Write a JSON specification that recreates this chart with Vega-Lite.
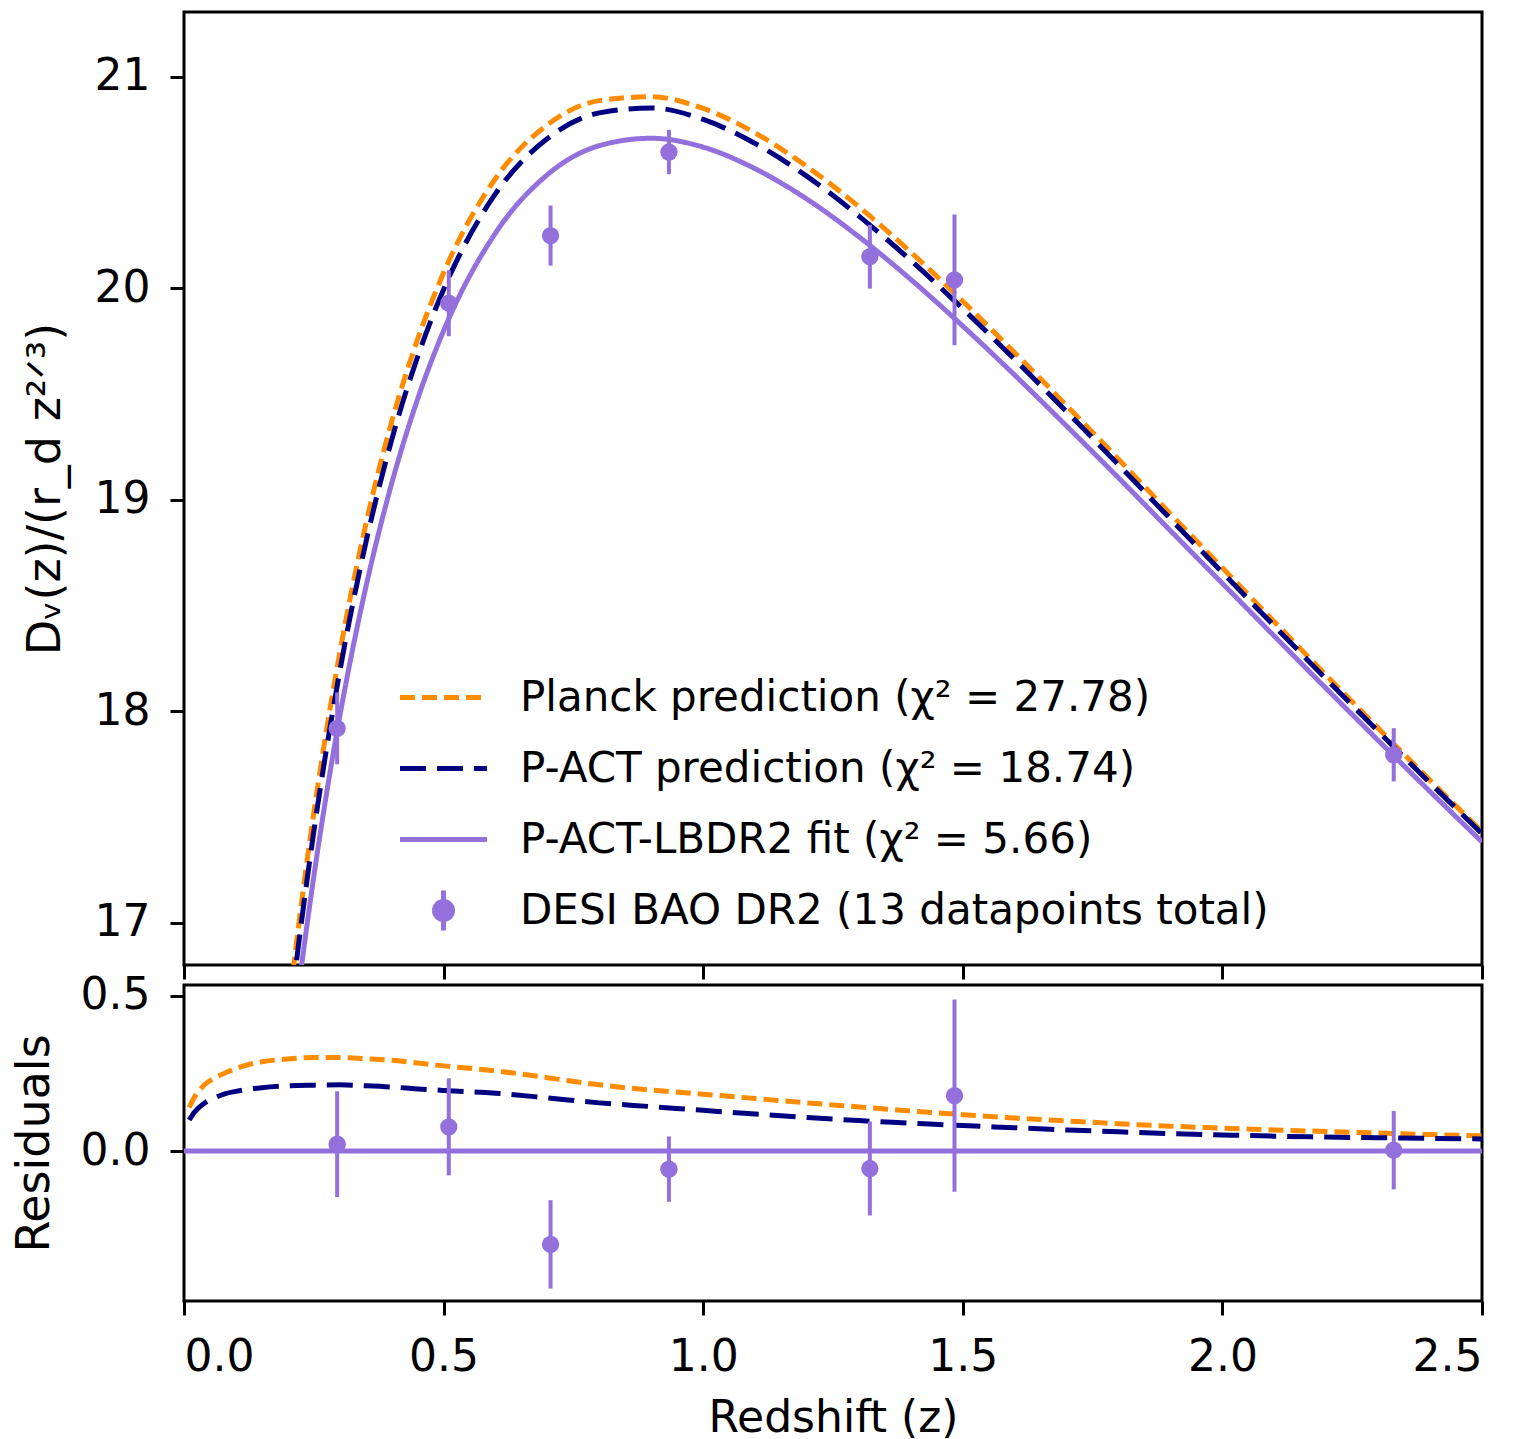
{
  "$schema": "https://vega.github.io/schema/vega-lite/v6.json",
  "background": "white",
  "padding": {"left": 9, "top": 10, "right": 0, "bottom": 0},
  "spacing": -10,
  "config": {
    "view": {"stroke": "black", "strokeWidth": 3},
    "font": "DejaVu Sans",
    "axis": {"domain": false, "grid": false, "tickColor": "black", "tickWidth": 3, "tickSize": 14, "labelFont": "DejaVu Sans", "labelFontSize": 44, "labelColor": "black", "labelPadding": 20, "titleFont": "DejaVu Sans", "titleFontSize": 46, "titleFontWeight": "normal", "titleColor": "black", "titlePadding": 25}
  },
  "datasets": {
    "curves": [
      {"series": "Planck prediction (χ² = 27.78)", "z": 0.2, "value": 16.561},
      {"series": "Planck prediction (χ² = 27.78)", "z": 0.22, "value": 16.972},
      {"series": "Planck prediction (χ² = 27.78)", "z": 0.25, "value": 17.52},
      {"series": "Planck prediction (χ² = 27.78)", "z": 0.275, "value": 17.919},
      {"series": "Planck prediction (χ² = 27.78)", "z": 0.3, "value": 18.277},
      {"series": "Planck prediction (χ² = 27.78)", "z": 0.35, "value": 18.882},
      {"series": "Planck prediction (χ² = 27.78)", "z": 0.4, "value": 19.37},
      {"series": "Planck prediction (χ² = 27.78)", "z": 0.45, "value": 19.76},
      {"series": "Planck prediction (χ² = 27.78)", "z": 0.5, "value": 20.074},
      {"series": "Planck prediction (χ² = 27.78)", "z": 0.6, "value": 20.52},
      {"series": "Planck prediction (χ² = 27.78)", "z": 0.7, "value": 20.774},
      {"series": "Planck prediction (χ² = 27.78)", "z": 0.8, "value": 20.888},
      {"series": "Planck prediction (χ² = 27.78)", "z": 0.9, "value": 20.906},
      {"series": "Planck prediction (χ² = 27.78)", "z": 1.0, "value": 20.851},
      {"series": "Planck prediction (χ² = 27.78)", "z": 1.1, "value": 20.735},
      {"series": "Planck prediction (χ² = 27.78)", "z": 1.2, "value": 20.576},
      {"series": "Planck prediction (χ² = 27.78)", "z": 1.3, "value": 20.386},
      {"series": "Planck prediction (χ² = 27.78)", "z": 1.4, "value": 20.171},
      {"series": "Planck prediction (χ² = 27.78)", "z": 1.5, "value": 19.939},
      {"series": "Planck prediction (χ² = 27.78)", "z": 1.6, "value": 19.696},
      {"series": "Planck prediction (χ² = 27.78)", "z": 1.7, "value": 19.446},
      {"series": "Planck prediction (χ² = 27.78)", "z": 1.8, "value": 19.192},
      {"series": "Planck prediction (χ² = 27.78)", "z": 1.9, "value": 18.934},
      {"series": "Planck prediction (χ² = 27.78)", "z": 2.0, "value": 18.679},
      {"series": "Planck prediction (χ² = 27.78)", "z": 2.1, "value": 18.424},
      {"series": "Planck prediction (χ² = 27.78)", "z": 2.2, "value": 18.171},
      {"series": "Planck prediction (χ² = 27.78)", "z": 2.3, "value": 17.921},
      {"series": "Planck prediction (χ² = 27.78)", "z": 2.4, "value": 17.674},
      {"series": "Planck prediction (χ² = 27.78)", "z": 2.5, "value": 17.432},
      {"series": "P-ACT prediction (χ² = 18.74)", "z": 0.2, "value": 16.475},
      {"series": "P-ACT prediction (χ² = 18.74)", "z": 0.22, "value": 16.885},
      {"series": "P-ACT prediction (χ² = 18.74)", "z": 0.25, "value": 17.431},
      {"series": "P-ACT prediction (χ² = 18.74)", "z": 0.275, "value": 17.831},
      {"series": "P-ACT prediction (χ² = 18.74)", "z": 0.3, "value": 18.189},
      {"series": "P-ACT prediction (χ² = 18.74)", "z": 0.35, "value": 18.795},
      {"series": "P-ACT prediction (χ² = 18.74)", "z": 0.4, "value": 19.284},
      {"series": "P-ACT prediction (χ² = 18.74)", "z": 0.45, "value": 19.677},
      {"series": "P-ACT prediction (χ² = 18.74)", "z": 0.5, "value": 19.995},
      {"series": "P-ACT prediction (χ² = 18.74)", "z": 0.6, "value": 20.448},
      {"series": "P-ACT prediction (χ² = 18.74)", "z": 0.7, "value": 20.709},
      {"series": "P-ACT prediction (χ² = 18.74)", "z": 0.8, "value": 20.83},
      {"series": "P-ACT prediction (χ² = 18.74)", "z": 0.9, "value": 20.853},
      {"series": "P-ACT prediction (χ² = 18.74)", "z": 1.0, "value": 20.799},
      {"series": "P-ACT prediction (χ² = 18.74)", "z": 1.1, "value": 20.685},
      {"series": "P-ACT prediction (χ² = 18.74)", "z": 1.2, "value": 20.53},
      {"series": "P-ACT prediction (χ² = 18.74)", "z": 1.3, "value": 20.342},
      {"series": "P-ACT prediction (χ² = 18.74)", "z": 1.4, "value": 20.132},
      {"series": "P-ACT prediction (χ² = 18.74)", "z": 1.5, "value": 19.904},
      {"series": "P-ACT prediction (χ² = 18.74)", "z": 1.6, "value": 19.664},
      {"series": "P-ACT prediction (χ² = 18.74)", "z": 1.7, "value": 19.417},
      {"series": "P-ACT prediction (χ² = 18.74)", "z": 1.8, "value": 19.166},
      {"series": "P-ACT prediction (χ² = 18.74)", "z": 1.9, "value": 18.91},
      {"series": "P-ACT prediction (χ² = 18.74)", "z": 2.0, "value": 18.657},
      {"series": "P-ACT prediction (χ² = 18.74)", "z": 2.1, "value": 18.404},
      {"series": "P-ACT prediction (χ² = 18.74)", "z": 2.2, "value": 18.153},
      {"series": "P-ACT prediction (χ² = 18.74)", "z": 2.3, "value": 17.906},
      {"series": "P-ACT prediction (χ² = 18.74)", "z": 2.4, "value": 17.662},
      {"series": "P-ACT prediction (χ² = 18.74)", "z": 2.5, "value": 17.422},
      {"series": "P-ACT-LBDR2 fit (χ² = 5.66)", "z": 0.2, "value": 16.265},
      {"series": "P-ACT-LBDR2 fit (χ² = 5.66)", "z": 0.22, "value": 16.674},
      {"series": "P-ACT-LBDR2 fit (χ² = 5.66)", "z": 0.25, "value": 17.219},
      {"series": "P-ACT-LBDR2 fit (χ² = 5.66)", "z": 0.275, "value": 17.618},
      {"series": "P-ACT-LBDR2 fit (χ² = 5.66)", "z": 0.3, "value": 17.976},
      {"series": "P-ACT-LBDR2 fit (χ² = 5.66)", "z": 0.35, "value": 18.585},
      {"series": "P-ACT-LBDR2 fit (χ² = 5.66)", "z": 0.4, "value": 19.078},
      {"series": "P-ACT-LBDR2 fit (χ² = 5.66)", "z": 0.45, "value": 19.477},
      {"series": "P-ACT-LBDR2 fit (χ² = 5.66)", "z": 0.5, "value": 19.8},
      {"series": "P-ACT-LBDR2 fit (χ² = 5.66)", "z": 0.6, "value": 20.262},
      {"series": "P-ACT-LBDR2 fit (χ² = 5.66)", "z": 0.7, "value": 20.538},
      {"series": "P-ACT-LBDR2 fit (χ² = 5.66)", "z": 0.8, "value": 20.675},
      {"series": "P-ACT-LBDR2 fit (χ² = 5.66)", "z": 0.9, "value": 20.71},
      {"series": "P-ACT-LBDR2 fit (χ² = 5.66)", "z": 1.0, "value": 20.668},
      {"series": "P-ACT-LBDR2 fit (χ² = 5.66)", "z": 1.1, "value": 20.566},
      {"series": "P-ACT-LBDR2 fit (χ² = 5.66)", "z": 1.2, "value": 20.422},
      {"series": "P-ACT-LBDR2 fit (χ² = 5.66)", "z": 1.3, "value": 20.244},
      {"series": "P-ACT-LBDR2 fit (χ² = 5.66)", "z": 1.4, "value": 20.042},
      {"series": "P-ACT-LBDR2 fit (χ² = 5.66)", "z": 1.5, "value": 19.822},
      {"series": "P-ACT-LBDR2 fit (χ² = 5.66)", "z": 1.6, "value": 19.59},
      {"series": "P-ACT-LBDR2 fit (χ² = 5.66)", "z": 1.7, "value": 19.349},
      {"series": "P-ACT-LBDR2 fit (χ² = 5.66)", "z": 1.8, "value": 19.104},
      {"series": "P-ACT-LBDR2 fit (χ² = 5.66)", "z": 1.9, "value": 18.854},
      {"series": "P-ACT-LBDR2 fit (χ² = 5.66)", "z": 2.0, "value": 18.605},
      {"series": "P-ACT-LBDR2 fit (χ² = 5.66)", "z": 2.1, "value": 18.356},
      {"series": "P-ACT-LBDR2 fit (χ² = 5.66)", "z": 2.2, "value": 18.108},
      {"series": "P-ACT-LBDR2 fit (χ² = 5.66)", "z": 2.3, "value": 17.863},
      {"series": "P-ACT-LBDR2 fit (χ² = 5.66)", "z": 2.4, "value": 17.621},
      {"series": "P-ACT-LBDR2 fit (χ² = 5.66)", "z": 2.5, "value": 17.383}
    ],
    "rescurves": [
      {"series": "Planck", "z": 0.01, "res": 0.14},
      {"series": "Planck", "z": 0.02, "res": 0.173},
      {"series": "Planck", "z": 0.04, "res": 0.214},
      {"series": "Planck", "z": 0.06, "res": 0.236},
      {"series": "Planck", "z": 0.08, "res": 0.252},
      {"series": "Planck", "z": 0.1, "res": 0.265},
      {"series": "Planck", "z": 0.12, "res": 0.276},
      {"series": "Planck", "z": 0.15, "res": 0.287},
      {"series": "Planck", "z": 0.2, "res": 0.296},
      {"series": "Planck", "z": 0.25, "res": 0.301},
      {"series": "Planck", "z": 0.3, "res": 0.301},
      {"series": "Planck", "z": 0.35, "res": 0.297},
      {"series": "Planck", "z": 0.4, "res": 0.292},
      {"series": "Planck", "z": 0.45, "res": 0.283},
      {"series": "Planck", "z": 0.5, "res": 0.274},
      {"series": "Planck", "z": 0.6, "res": 0.258},
      {"series": "Planck", "z": 0.7, "res": 0.236},
      {"series": "Planck", "z": 0.8, "res": 0.213},
      {"series": "Planck", "z": 0.9, "res": 0.196},
      {"series": "Planck", "z": 1.0, "res": 0.183},
      {"series": "Planck", "z": 1.1, "res": 0.169},
      {"series": "Planck", "z": 1.2, "res": 0.155},
      {"series": "Planck", "z": 1.3, "res": 0.142},
      {"series": "Planck", "z": 1.4, "res": 0.129},
      {"series": "Planck", "z": 1.5, "res": 0.117},
      {"series": "Planck", "z": 1.6, "res": 0.106},
      {"series": "Planck", "z": 1.7, "res": 0.097},
      {"series": "Planck", "z": 1.8, "res": 0.088},
      {"series": "Planck", "z": 1.9, "res": 0.08},
      {"series": "Planck", "z": 2.0, "res": 0.074},
      {"series": "Planck", "z": 2.1, "res": 0.068},
      {"series": "Planck", "z": 2.2, "res": 0.063},
      {"series": "Planck", "z": 2.3, "res": 0.058},
      {"series": "Planck", "z": 2.4, "res": 0.053},
      {"series": "Planck", "z": 2.5, "res": 0.049},
      {"series": "P-ACT", "z": 0.01, "res": 0.1},
      {"series": "P-ACT", "z": 0.02, "res": 0.125},
      {"series": "P-ACT", "z": 0.04, "res": 0.155},
      {"series": "P-ACT", "z": 0.06, "res": 0.172},
      {"series": "P-ACT", "z": 0.08, "res": 0.185},
      {"series": "P-ACT", "z": 0.1, "res": 0.192},
      {"series": "P-ACT", "z": 0.12, "res": 0.198},
      {"series": "P-ACT", "z": 0.15, "res": 0.204},
      {"series": "P-ACT", "z": 0.2, "res": 0.21},
      {"series": "P-ACT", "z": 0.25, "res": 0.212},
      {"series": "P-ACT", "z": 0.3, "res": 0.213},
      {"series": "P-ACT", "z": 0.35, "res": 0.21},
      {"series": "P-ACT", "z": 0.4, "res": 0.206},
      {"series": "P-ACT", "z": 0.45, "res": 0.2},
      {"series": "P-ACT", "z": 0.5, "res": 0.195},
      {"series": "P-ACT", "z": 0.6, "res": 0.186},
      {"series": "P-ACT", "z": 0.7, "res": 0.171},
      {"series": "P-ACT", "z": 0.8, "res": 0.155},
      {"series": "P-ACT", "z": 0.9, "res": 0.143},
      {"series": "P-ACT", "z": 1.0, "res": 0.131},
      {"series": "P-ACT", "z": 1.1, "res": 0.119},
      {"series": "P-ACT", "z": 1.2, "res": 0.108},
      {"series": "P-ACT", "z": 1.3, "res": 0.098},
      {"series": "P-ACT", "z": 1.4, "res": 0.09},
      {"series": "P-ACT", "z": 1.5, "res": 0.082},
      {"series": "P-ACT", "z": 1.6, "res": 0.075},
      {"series": "P-ACT", "z": 1.7, "res": 0.068},
      {"series": "P-ACT", "z": 1.8, "res": 0.062},
      {"series": "P-ACT", "z": 1.9, "res": 0.056},
      {"series": "P-ACT", "z": 2.0, "res": 0.052},
      {"series": "P-ACT", "z": 2.1, "res": 0.048},
      {"series": "P-ACT", "z": 2.2, "res": 0.045},
      {"series": "P-ACT", "z": 2.3, "res": 0.043},
      {"series": "P-ACT", "z": 2.4, "res": 0.041},
      {"series": "P-ACT", "z": 2.5, "res": 0.039}
    ],
    "points": [
      {"z": 0.295, "value": 17.92, "res": 0.022, "err": 0.17},
      {"z": 0.51, "value": 19.93, "res": 0.078, "err": 0.156},
      {"z": 0.706, "value": 20.25, "res": -0.3, "err": 0.142},
      {"z": 0.934, "value": 20.645, "res": -0.058, "err": 0.105},
      {"z": 1.321, "value": 20.15, "res": -0.056, "err": 0.151},
      {"z": 1.484, "value": 20.04, "res": 0.178, "err": 0.309},
      {"z": 2.33, "value": 17.795, "res": 0.003, "err": 0.126}
    ]
  },
  "resolve": {"scale": {"color": "independent", "strokeDash": "independent", "x": "independent", "y": "independent"}},
  "vconcat": [
    {
      "width": 1298,
      "height": 953,
      "layer": [
        {
          "data": {"name": "curves"},
          "mark": {"type": "line", "clip": true, "strokeWidth": 5, "interpolate": "monotone"},
          "encoding": {
            "x": {"field": "z", "type": "quantitative", "scale": {"domain": [0, 2.5], "nice": false, "zero": false}, "axis": {"values": [0, 0.5, 1, 1.5, 2, 2.5], "labels": false, "title": null, "minExtent": 15, "maxExtent": 15}},
            "y": {"field": "value", "type": "quantitative", "title": "Dᵥ(z)/(r_d z²ᐟ³)", "scale": {"domain": [16.801, 21.307], "nice": false, "zero": false}, "axis": {"values": [17, 18, 19, 20, 21], "format": "d"}},
            "color": {
              "field": "series", "type": "nominal",
              "scale": {"domain": ["Planck prediction (χ² = 27.78)", "P-ACT prediction (χ² = 18.74)", "P-ACT-LBDR2 fit (χ² = 5.66)", "DESI BAO DR2 (13 datapoints total)"], "range": ["#FF8C00", "#000080", "#9370DB", "#9370DB"]},
              "legend": {
                "orient": "none", "legendX": 237, "legendY": 663, "title": null, "padding": 0,
                "labelFont": "DejaVu Sans", "labelFontSize": 42, "labelColor": "black", "labelLimit": 0,
                "symbolSize": 1600, "symbolStrokeWidth": 5, "labelOffset": 54, "rowPadding": 10, "symbolOpacity": 1,
                "encode": {"symbols": {"update": {
                  "shape": {"signal": "indexof(datum.value,'DESI')===0 ? 'M0,-1L0,1M0.45,0A0.45,0.45,0,1,1,-0.45,0A0.45,0.45,0,1,1,0.45,0Z' : 'M0,-1M0,1M-2.175,0L2.175,0'"},
                  "strokeDash": {"signal": "indexof(datum.value,'Planck')===0 ? [15,7] : indexof(datum.value,'P-ACT prediction')===0 ? [26,11] : [1,0]"},
                  "stroke": {"signal": "indexof(datum.value,'Planck')===0 ? '#FF8C00' : indexof(datum.value,'P-ACT prediction')===0 ? '#000080' : '#9370DB'"},
                  "fill": {"signal": "indexof(datum.value,'DESI')===0 ? '#9370DB' : 'transparent'"},
                  "opacity": {"value": 1}
                }}}
              }
            },
            "strokeDash": {"field": "series", "type": "nominal", "scale": {"domain": ["Planck prediction (χ² = 27.78)", "P-ACT prediction (χ² = 18.74)", "P-ACT-LBDR2 fit (χ² = 5.66)"], "range": [[15, 7], [26, 11], [1, 0]]}, "legend": null}
          }
        },
        {
          "data": {"name": "points"},
          "mark": {"type": "errorbar", "color": "#9370DB", "thickness": 4},
          "encoding": {
            "x": {"field": "z", "type": "quantitative"},
            "y": {"field": "value", "type": "quantitative", "title": "Dᵥ(z)/(r_d z²ᐟ³)"},
            "yError": {"field": "err"}
          }
        },
        {
          "data": {"name": "points"},
          "mark": {"type": "point", "filled": true, "color": "#9370DB", "size": 300, "opacity": 1},
          "encoding": {
            "x": {"field": "z", "type": "quantitative"},
            "y": {"field": "value", "type": "quantitative", "title": "Dᵥ(z)/(r_d z²ᐟ³)"}
          }
        }
      ]
    },
    {
      "width": 1298,
      "height": 316,
      "layer": [
        {
          "data": {"values": [{"res": 0}]},
          "mark": {"type": "rule", "color": "#9370DB", "strokeWidth": 5},
          "encoding": {
            "y": {"field": "res", "type": "quantitative", "title": "Residuals", "scale": {"domain": [-0.482, 0.534], "nice": false, "zero": false}, "axis": {"values": [0, 0.5], "format": ".1f", "titlePadding": 22}}
          }
        },
        {
          "data": {"name": "rescurves"},
          "mark": {"type": "line", "clip": true, "strokeWidth": 5, "interpolate": "monotone"},
          "encoding": {
            "x": {"field": "z", "type": "quantitative", "title": "Redshift (z)", "scale": {"domain": [0, 2.5], "nice": false, "zero": false}, "axis": {"values": [0, 0.5, 1, 1.5, 2, 2.5], "format": ".1f", "labelPadding": 20, "titlePadding": 17, "titleFontSize": 44}},
            "y": {"field": "res", "type": "quantitative", "title": "Residuals"},
            "color": {"field": "series", "type": "nominal", "scale": {"domain": ["Planck", "P-ACT"], "range": ["#FF8C00", "#000080"]}, "legend": null},
            "strokeDash": {"field": "series", "type": "nominal", "scale": {"domain": ["Planck", "P-ACT"], "range": [[15, 7], [26, 11]]}, "legend": null}
          }
        },
        {
          "data": {"name": "points"},
          "mark": {"type": "errorbar", "color": "#9370DB", "thickness": 4},
          "encoding": {
            "x": {"field": "z", "type": "quantitative", "title": "Redshift (z)"},
            "y": {"field": "res", "type": "quantitative", "title": "Residuals"},
            "yError": {"field": "err"}
          }
        },
        {
          "data": {"name": "points"},
          "mark": {"type": "point", "filled": true, "color": "#9370DB", "size": 300, "opacity": 1},
          "encoding": {
            "x": {"field": "z", "type": "quantitative", "title": "Redshift (z)"},
            "y": {"field": "res", "type": "quantitative", "title": "Residuals"}
          }
        }
      ]
    }
  ]
}
